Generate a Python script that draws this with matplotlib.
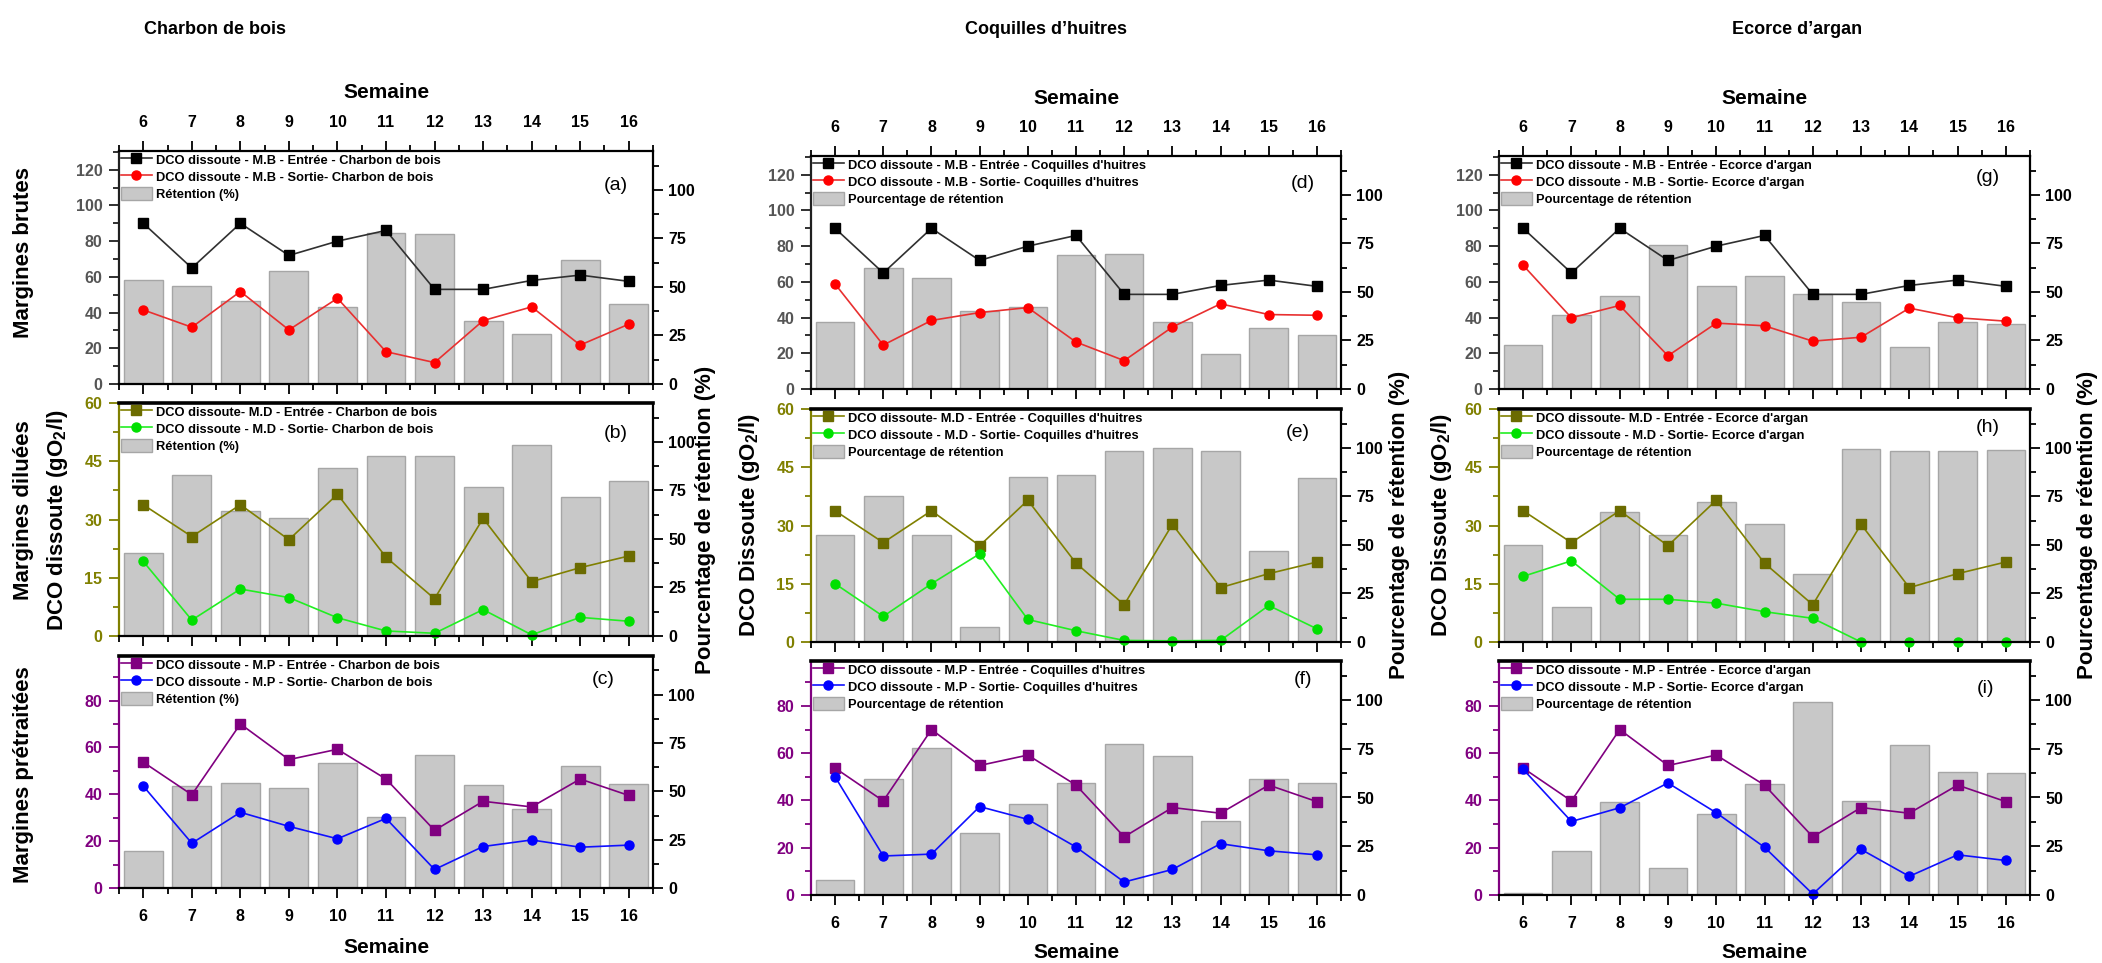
import matplotlib
matplotlib.use('Agg')
import matplotlib.pyplot as plt
from matplotlib.ticker import MultipleLocator

W, H = 2102, 963
plt.rcParams['font.family'] = ['Liberation Sans', 'DejaVu Sans']
plt.rcParams['font.weight'] = 'bold'
plt.rcParams['mathtext.fontset'] = 'custom'
plt.rcParams['mathtext.rm'] = 'Liberation Sans:bold'
plt.rcParams['mathtext.it'] = 'Liberation Sans:bold'
plt.rcParams['mathtext.bf'] = 'Liberation Sans:bold'

# ---------------- data ----------------
weeks = [6, 7, 8, 9, 10, 11, 12, 13, 14, 15, 16]

mb_entree = [90, 65, 90, 72, 80, 86, 53, 53, 58, 61, 57.5]
md_entree = [33.8, 25.6, 33.8, 24.8, 36.5, 20.3, 9.6, 30.3, 14, 17.6, 20.6]
mp_entree = [53.7, 39.8, 70, 54.8, 59.2, 46.5, 24.6, 37, 34.6, 46.5, 39.5]

mb_sortie_charbon = [41.5, 31.8, 51.8, 30.3, 48, 18.1, 12, 35.5, 43.2, 21.8, 33.5]
mb_sortie_coquilles = [58.8, 24.6, 38.4, 42.8, 45.6, 26.3, 15.9, 34.7, 47.7, 41.7, 41.3]
mb_sortie_argan = [69.3, 39.9, 46.8, 18.6, 36.9, 35.4, 26.8, 29, 45.3, 39.9, 38]

md_sortie_charbon = [19.2, 4.1, 12.1, 9.9, 4.7, 1.3, 0.7, 6.8, 0.3, 4.8, 3.8]
md_sortie_coquilles = [15, 6.6, 15, 22.7, 5.8, 2.9, 0.4, 0.3, 0.4, 9.4, 3.4]
md_sortie_argan = [16.9, 20.9, 11, 11, 10, 7.8, 6.1, 0, 0, 0, 0]

mp_sortie_charbon = [43.5, 19.1, 32.3, 26.3, 21, 29.7, 7.9, 17.7, 20.5, 17.4, 18.3]
mp_sortie_coquilles = [50, 16.5, 17.3, 37.4, 32, 20.3, 5.5, 10.8, 21.7, 18.7, 17]
mp_sortie_argan = [53.2, 31.1, 36.9, 47.4, 34.8, 20.2, 0.4, 19.3, 7.9, 17, 14.6]

ret_mb_charbon = [53.6, 50.7, 42.5, 58, 39.4, 78, 77, 32.7, 25.9, 63.7, 41.1]
ret_md_charbon = [43, 82.9, 64.6, 61, 86.6, 92.6, 92.6, 76.9, 98.3, 71.4, 79.8]
ret_mp_charbon = [19.1, 52.6, 54.3, 51.9, 64.8, 36.6, 68.6, 53.1, 41.1, 63.2, 53.6]
ret_mb_coquilles = [34.5, 62.1, 57.1, 40, 42.4, 69, 69.5, 34.5, 18, 31.4, 27.6]
ret_md_coquilles = [55.3, 75, 55.3, 7.8, 85, 85.9, 98.6, 99.8, 98.6, 47, 84.5]
ret_mp_coquilles = [7.5, 59.3, 75.3, 31.9, 46.7, 57.3, 77.2, 71.5, 38.1, 59.7, 57.3]
ret_mb_argan = [22.8, 38.1, 48, 74.1, 52.8, 58.1, 48.7, 44.6, 21.8, 34.5, 33.4]
ret_md_argan = [49.7, 18.2, 67.1, 55.1, 71.9, 61, 34.9, 99.3, 98.3, 98.3, 99]
ret_mp_argan = [1, 22.6, 47.5, 13.7, 41.6, 56.9, 99.1, 48, 77, 63.2, 62.6]

col_titles = ['Charbon de bois', 'Coquilles d\u2019huitres', 'Ecorce d\u2019argan']
materials = ['Charbon de bois', "Coquilles d'huitres", "Ecorce d'argan"]
ret_labels = ['R\u00e9tention (%)', 'Pourcentage de r\u00e9tention', 'Pourcentage de r\u00e9tention']
row_labels = ['Margines brutes', 'Margines dilu\u00e9es', 'Margines pr\u00e9trait\u00e9es']
panel_letters = [['(a)', '(b)', '(c)'], ['(d)', '(e)', '(f)'], ['(g)', '(h)', '(i)']]
dco_labels = ['DCO dissoute (gO$_2$/l)', 'DCO Dissoute (gO$_2$/l)', 'DCO Dissoute (gO$_2$/l)']

entree = [mb_entree, md_entree, mp_entree]
sortie = [[mb_sortie_charbon, md_sortie_charbon, mp_sortie_charbon],
          [mb_sortie_coquilles, md_sortie_coquilles, mp_sortie_coquilles],
          [mb_sortie_argan, md_sortie_argan, mp_sortie_argan]]
retention = [[ret_mb_charbon, ret_md_charbon, ret_mp_charbon],
             [ret_mb_coquilles, ret_md_coquilles, ret_mp_coquilles],
             [ret_mb_argan, ret_md_argan, ret_mp_argan]]

entree_fmt = ['DCO dissoute - M.B - Entr\u00e9e - {}', 'DCO dissoute- M.D - Entr\u00e9e - {}',
              'DCO dissoute - M.P - Entr\u00e9e - {}']
sortie_fmt = ['DCO dissoute - M.B - Sortie- {}', 'DCO dissoute - M.D - Sortie- {}',
              'DCO dissoute - M.P - Sortie- {}']

# ---------------- styles / layout ----------------
row_style = [
    dict(ec='#000000', el='#303030', sc='#ff0000', sl='#e83030', spine='#202020', lab='#555555',
         ylim=130.5, major=20, minor=10),
    dict(ec='#6b6b00', el='#808000', sc='#00e000', sl='#22ee22', spine='#808000', lab='#808000',
         ylim=60, major=15, minor=7.5),
    dict(ec='#800080', el='#800080', sc='#0000ff', sl='#1010ff', spine='#800080', lab='#800080',
         ylim=99, major=20, minor=10),
]

col_x = [(119, 653), (811, 1341), (1499, 2030)]
row_y = [[(151, 384), (403, 636), (656, 888)],
         [(156, 389), (409, 642), (661, 895)],
         [(156, 389), (409, 642), (661, 895)]]
letter_pos = [[(616, 186), (616, 433), (603, 680)],
              [(1303, 183), (1298, 432), (1303, 680)],
              [(1988, 177), (1988, 428), (1986, 688)]]


def fx(x):
    return x / W


def fy(y):
    return 1 - y / H


fig = plt.figure(figsize=(W / 100, H / 100), dpi=100)

for c in range(3):
    x0, x1 = col_x[c]
    for r in range(3):
        y0, y1 = row_y[c][r]
        st = row_style[r]
        ax = fig.add_axes([fx(x0), fy(y1), (x1 - x0) / W, (y1 - y0) / H])
        ax2 = ax.twinx()
        ax.set_zorder(ax2.get_zorder() + 1)
        ax.patch.set_visible(False)

        bars = ax2.bar(weeks, retention[c][r], width=0.8, color='#c8c8c8',
                       edgecolor='#a6a6a6', linewidth=1.0)
        l1, = ax.plot(weeks, entree[r], '-', color=st['el'], lw=1.2, marker='s', ms=6.5,
                      mfc=st['ec'], mec=st['ec'], clip_on=False)
        l2, = ax.plot(weeks, sortie[c][r], '-', color=st['sl'], lw=1.2, marker='o', ms=6.5,
                      mfc=st['sc'], mec=st['sc'], clip_on=False)

        ax.set_xlim(5.5, 16.5)
        ax.set_ylim(0, st['ylim'])
        ax2.set_ylim(0, 120)

        ax.xaxis.set_major_locator(MultipleLocator(1))
        ax.xaxis.set_minor_locator(MultipleLocator(0.5))
        ax.yaxis.set_major_locator(MultipleLocator(st['major']))
        ax.yaxis.set_minor_locator(MultipleLocator(st['minor']))
        ax2.yaxis.set_major_locator(MultipleLocator(25))
        ax2.yaxis.set_minor_locator(MultipleLocator(12.5))

        # x ticks
        ax.tick_params(axis='x', which='both', direction='out', top=(r == 0),
                       bottom=True, labeltop=(r == 0), labelbottom=(r == 2),
                       colors='black', labelsize=11.5, width=1.3, pad=7.5)
        ax.tick_params(axis='x', which='major', length=7.5)
        ax.tick_params(axis='x', which='minor', length=4)
        # left y ticks
        ax.tick_params(axis='y', which='both', direction='out', left=True, right=False,
                       color=st['spine'], labelcolor=st['lab'], labelsize=11.5, width=1.3, pad=5)
        ax.tick_params(axis='y', which='major', length=7)
        ax.tick_params(axis='y', which='minor', length=4)
        # right y ticks
        ax2.tick_params(axis='y', which='both', direction='out', right=True, left=False,
                        colors='black', labelsize=11.5, width=1.3, pad=4)
        ax2.tick_params(axis='y', which='major', length=7)
        ax2.tick_params(axis='y', which='minor', length=4)
        for lab in ax.get_xticklabels() + ax.get_yticklabels() + ax2.get_yticklabels():
            lab.set_fontweight('bold')

        for s in ['left', 'top', 'bottom']:
            ax2.spines[s].set_visible(False)
        ax2.spines['right'].set_linewidth(1.6)
        ax2.spines['right'].set_color('black')
        ax.spines['right'].set_visible(False)
        ax.spines['left'].set_color(st['spine'])
        ax.spines['left'].set_linewidth(1.6)
        ax.spines['bottom'].set_linewidth(1.6)
        ax.spines['top'].set_linewidth(1.6 if r == 0 else 2.6)

        ax.legend([l1, l2, bars],
                  [entree_fmt[r].format(materials[c]), sortie_fmt[r].format(materials[c]),
                   ret_labels[c]],
                  loc='upper left', bbox_to_anchor=(0, 1), frameon=False,
                  prop=dict(size=9.3, weight='bold'), borderpad=0.15, borderaxespad=0,
                  handlelength=2.4, handletextpad=0.3, labelspacing=0.22,
                  handleheight=1.2)

        lx, ly = letter_pos[c][r]
        fig.text(fx(lx), fy(ly), panel_letters[c][r], fontsize=14, fontweight='normal',
                 ha='center', va='center')

    cx = (x0 + x1) / 2
    top_y = 93 if c == 0 else 98
    bot_y = 947 if c == 0 else 952
    fig.text(fx(cx), fy(top_y), 'Semaine', fontsize=15, fontweight='bold', ha='center', va='center')
    fig.text(fx(cx), fy(bot_y), 'Semaine', fontsize=15, fontweight='bold', ha='center', va='center')

# column titles
for tx, t in zip([215, 1046, 1797], col_titles):
    fig.text(fx(tx), fy(30), t, fontsize=13, fontweight='bold', ha='center', va='center')

# row labels
for ty, t in zip([252, 510, 775], row_labels):
    fig.text(fx(24), fy(ty), t, fontsize=16, fontweight='bold', rotation=90,
             ha='center', va='center')

# DCO labels (left) and retention labels (right)
for (dx, dy), t in zip([(58, 520), (750, 525), (1442, 525)], dco_labels):
    fig.text(fx(dx), fy(dy), t, fontsize=16, fontweight='bold', rotation=90,
             ha='center', va='center')
for (rx, ry) in [(705, 520), (1400, 525), (2087, 525)]:
    fig.text(fx(rx), fy(ry), 'Pourcentage de r\u00e9tention (%)', fontsize=16,
             fontweight='bold', rotation=90, ha='center', va='center')

fig.savefig('out.png', dpi=100)
